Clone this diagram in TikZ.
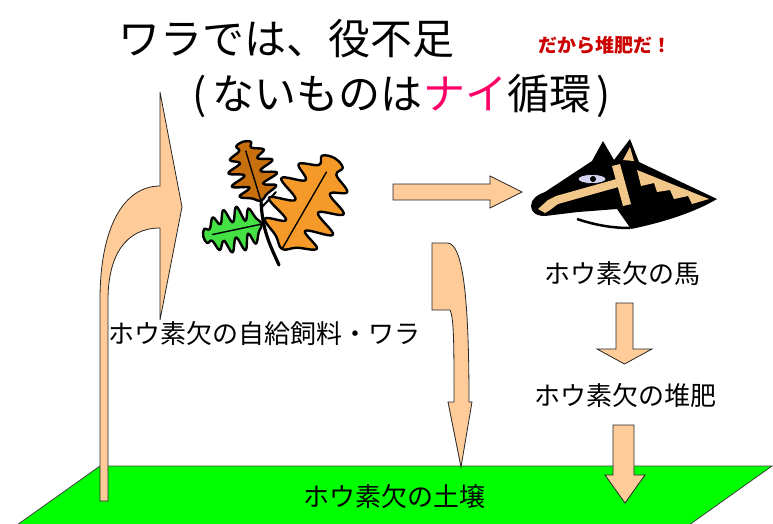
\documentclass[tikz,border=0pt]{standalone}
\usepackage{fontspec}
\setmainfont{Noto Sans CJK JP}
\usepackage{tikz}

\definecolor{peach}{HTML}{FFCC99}
\definecolor{soilgreen}{HTML}{00FF00}
\definecolor{naipink}{HTML}{FF0066}
\definecolor{darkred}{HTML}{CC0000}
\definecolor{leafbrown}{HTML}{C8700E}
\definecolor{leaforange}{HTML}{F59A28}
\definecolor{leafgreen}{HTML}{44E044}
\definecolor{horsetan}{HTML}{F2C88A}
\definecolor{eyeblue}{HTML}{D4D4F0}

\tikzset{
  blockarrow/.style={draw=black!85, fill=peach, line width=.8pt, line join=miter},
  jptext/.style={inner sep=0pt, font=\fontsize{26}{28}\selectfont},
  bigtitle/.style={inner sep=0pt, font=\fontsize{42}{46}\selectfont},
  pics/oakleaf/.style={code={
    \filldraw[fill=#1, draw=black, line width=2.4pt, line join=round]
      plot[smooth cycle, tension=.65] coordinates {(0,0) (.08,.12) (.17,.3) (.26,.11) (.36,.37) (.47,.13)
        (.58,.36) (.68,.14) (.78,.28) (.87,.1) (.96,.12) (1,0) (.96,-.12) (.87,-.1) (.78,-.28) (.68,-.14)
        (.58,-.36) (.47,-.13) (.36,-.37) (.26,-.11) (.17,-.3) (.08,-.12)};
    \draw[line width=1.4pt] (0,0) -- (.85,0);
  }}
}

\begin{document}
\begin{tikzpicture}[x=1pt, y=-1pt]
  \useasboundingbox (0,0) rectangle (773,523);

  \filldraw[fill=soilgreen, draw=black!75, line width=.8pt] (100,466) -- (772,466) -- (689,525) -- (17,525) -- cycle;

  \node[bigtitle] (ttl1) at (286,39) {ワラでは、役不足};
  \node[bigtitle] (ttl2) at (402,96) {(\hspace{6pt}ないものは\textcolor{naipink}{ナイ}循環\hspace{6pt})};
  \node[inner sep=0pt, text=darkred, font=\bfseries\fontsize{19}{21}\selectfont] (taihi) at (605,45) {だから堆肥だ！};

  \node[jptext] (wara) at (264,334) {ホウ素欠の自給飼料・ワラ};
  \node[jptext] (uma) at (622,274) {ホウ素欠の馬};
  \node[jptext] (hiryo) at (625,396) {ホウ素欠の堆肥};
  \node[jptext] (dojo) at (394,497) {ホウ素欠の土壌};

  \draw[blockarrow] (100,501) -- (100,300) .. controls (100,225) and (125,186) .. (160,186)
    -- (160,92) -- (182,207) -- (160,320) -- (160,228) .. controls (126,228) and (108,255) .. (108,300)
    -- (108,501) -- cycle;
  \draw[blockarrow] (393,184) -- (490,184) -- (490,176) -- (522,192) -- (490,208) -- (490,200) -- (393,200) -- cycle;
  \draw[blockarrow] (432,243) -- (432,310) -- (450,310) .. controls (454,318) and (454,345) .. (454,402)
    -- (448,402) -- (461,467) -- (472,402) -- (469,402) .. controls (469,290) and (462,245) .. (448,243) -- cycle;
  \draw[blockarrow] (616,303) -- (633,303) -- (633,349) -- (652,349) -- (624.5,364) -- (597,349) -- (616,349) -- cycle;
  \draw[blockarrow] (613,425) -- (634,425) -- (634,475) -- (645,475) -- (625,503) -- (605,475) -- (613,475) -- cycle;

  \draw[line width=3.2pt, line cap=round] (279,265) .. controls (270,245) and (262,230) .. (261,200);
  \draw[line width=2pt, line cap=round] (262,207) -- (276,192);
  \pic[rotate=107, xscale=62, yscale=64] at (261,201) {oakleaf=leafbrown};
  \pic[rotate=60, xscale=105, yscale=100] at (282,249) {oakleaf=leaforange};
  \pic[rotate=192, xscale=60, yscale=60] at (262,224) {oakleaf=leafgreen};

  \fill[black] (531,206) .. controls (531,199) and (537,195) .. (545,192) -- (592,161) -- (603,141) -- (614,160)
    -- (630,139) -- (639,162) -- (717,199) .. controls (695,212) and (665,222) .. (631,229) -- (617,209)
    -- (578,212) -- (545,216) .. controls (536,216) and (531,212) .. (531,206) -- cycle;
  \draw[line width=2.5pt] (577,219) .. controls (595,225) and (612,228) .. (630,228);
  \fill[horsetan] (612,166) -- (620,164) -- (631,204) -- (623,206) -- cycle;
  \fill[horsetan] (538,209) -- (548,200) -- (556,196) -- (620,178) -- (622,186) -- (558,204) -- (550,210) -- (545,213) -- cycle;
  \fill[horsetan] (623,160) -- (630,147) -- (634,161) -- cycle;
  \fill[horsetan] (637,170) -- (709,199) -- (692,204) -- (688,196) -- (674,199) -- (670,190) -- (657,192)
    -- (654,183) -- (641,186) -- cycle;
  \filldraw[fill=eyeblue, draw=black, line width=.6pt] (592,179) ellipse [x radius=14, y radius=4.5];
  \fill (593,179) circle [radius=3];
\end{tikzpicture}
\end{document}
